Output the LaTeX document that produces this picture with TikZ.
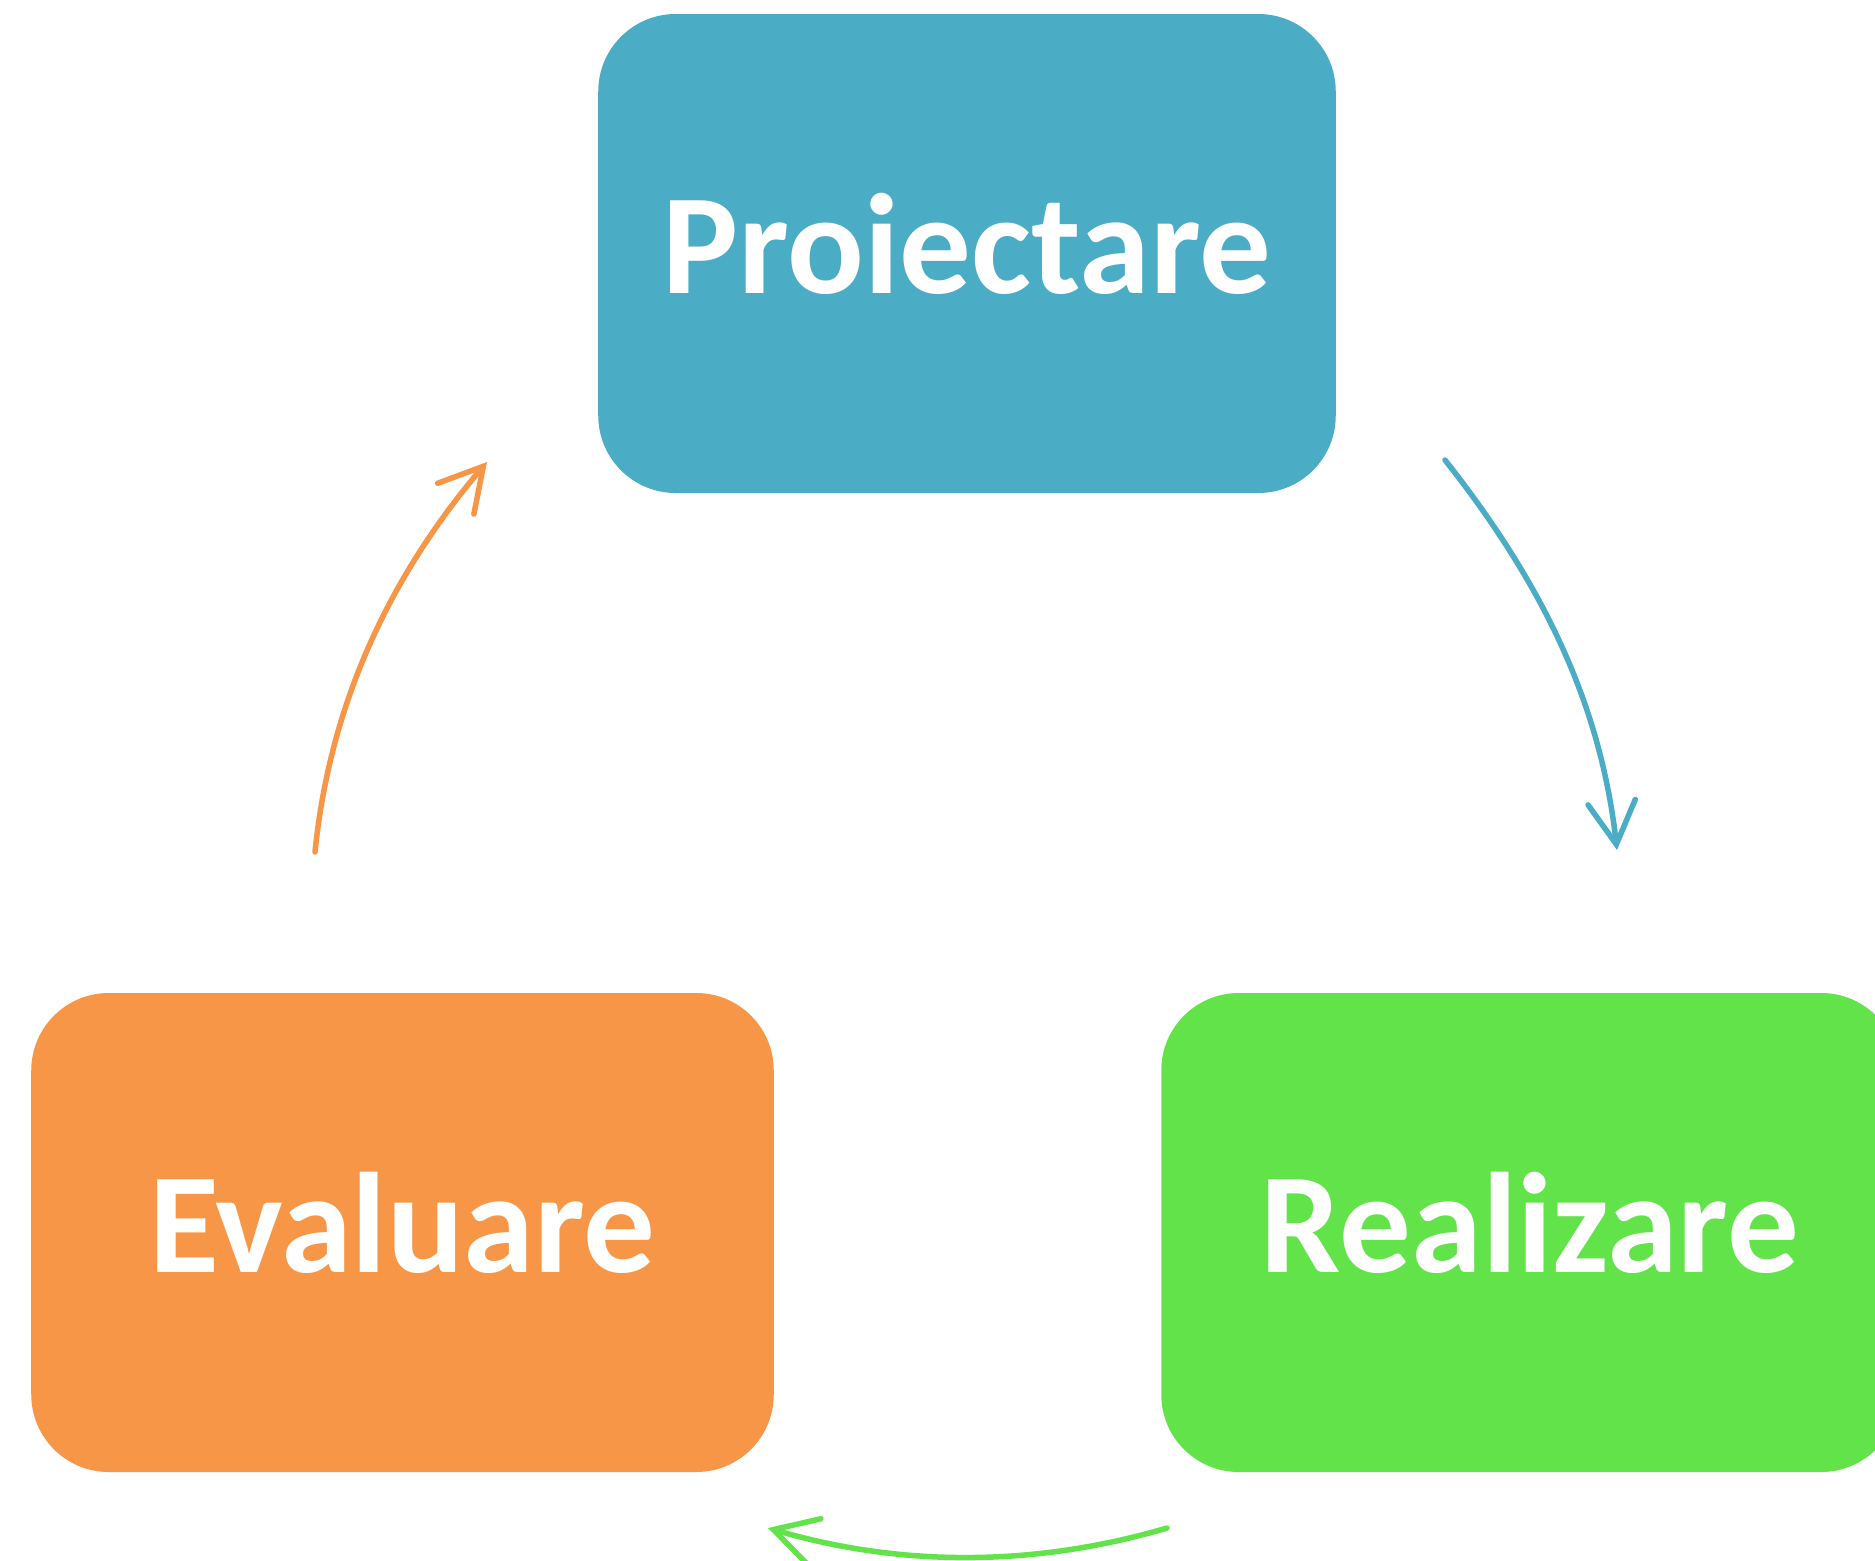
\documentclass[tikz,border=0pt]{standalone}
\usepackage{fontspec}
\setmainfont{Carlito}
\usetikzlibrary{arrows.meta}
\definecolor{cblue}{HTML}{4BACC6}
\definecolor{corange}{HTML}{F79646}
\definecolor{cgreen}{HTML}{63E34A}
\begin{document}
\begin{tikzpicture}[x=0.4pt,y=-0.4pt,
  stagebox/.style={rounded corners=31pt, minimum width=295pt, minimum height=191.6pt,
    inner sep=0pt, text=white, font=\fontsize{57.2}{60}\selectfont\bfseries,
    text height=31.6pt, text depth=0pt},
  cyclearrow/.style={line width=2.2pt, line cap=round,
    -{Straight Barb[length=17pt,width=19pt,line cap=round]}}]
\clip (0,0) rectangle (1875,1561);
\fill[white] (0,0) rectangle (1875,1561);
\node[stagebox, fill=cblue] (P) at (967,253.5) {Proiectare};
\node[stagebox, fill=cgreen] (R) at (1530,1232.5) {Realizare};
\node[stagebox, fill=corange, minimum width=297pt] (E) at (402.5,1232.5) {Evaluare};
\coordinate (b1) at (1445,460);
\coordinate (b2) at (1617,850);
\coordinate (g1) at (1167,1528);
\coordinate (g2) at (768,1528);
\coordinate (o1) at (315,852);
\coordinate (o2) at (487,462);
\draw[cyclearrow, cblue] (b1) .. controls (1539,579) and (1600,699) .. (b2);
\draw[cyclearrow, cgreen] (g1) .. controls (1034,1567) and (901,1567) .. (g2);
\draw[cyclearrow, corange] (o1) .. controls (330,703) and (390,576) .. (o2);
\end{tikzpicture}
\end{document}
